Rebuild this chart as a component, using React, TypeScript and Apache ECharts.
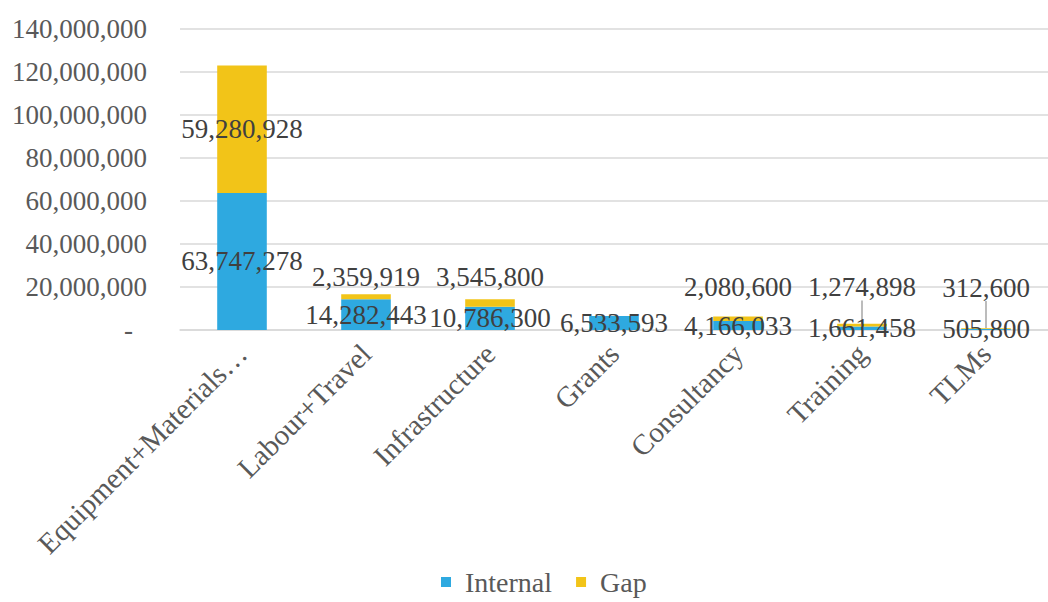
import React, { useEffect, useRef } from "react";
import * as echarts from "echarts";

const categories = [
  "Equipment+Materials…",
  "Labour+Travel",
  "Infrastructure",
  "Grants",
  "Consultancy",
  "Training",
  "TLMs",
];
const internalValues = [63747278, 14282443, 10786300, 6533593, 4166033, 1661458, 505800];
const gapValues: (number | null)[] = [59280928, 2359919, 3545800, null, 2080600, 1274898, 312600];
const yTicks = [0, 20000000, 40000000, 60000000, 80000000, 100000000, 120000000, 140000000];

// label placement (style, not data)
const gapLabelDy = [0, -20, -26, 0, -32, -38, -41];
const gapLeader = [false, false, false, false, false, true, true];

const FONT = "serif";
const FS = 27;
const TXT = "#404040";
const fmt = (v: number) => v.toLocaleString("en-US");

export default function App() {
  const ref = useRef<HTMLDivElement>(null);
  useEffect(() => {
    if (!ref.current) return;
    const chart = echarts.init(ref.current, null, { renderer: "svg" });
    chart.setOption({
      animation: false,
      textStyle: { fontFamily: FONT },
      grid: { left: 180, right: 0, top: 29, bottom: 272, containLabel: false },
      legend: {
        bottom: 1,
        left: 436,
        icon: "rect",
        itemWidth: 10,
        itemHeight: 10,
        itemGap: 24,
        textStyle: { fontFamily: FONT, fontSize: 28, color: "#595959", padding: [0, 0, 0, 9] },
        data: ["Internal", "Gap"],
      },
      xAxis: {
        type: "category",
        data: categories,
        axisLine: { show: true, lineStyle: { color: "#d9d9d9", width: 1.5 } },
        axisTick: { show: false },
        axisLabel: {
          rotate: 45,
          interval: 0,
          margin: 19,
          padding: [14, 0, 0, 0],
          fontFamily: FONT,
          fontSize: 29,
          color: "#595959",
        },
      },
      yAxis: {
        type: "value",
        min: yTicks[0],
        max: yTicks[yTicks.length - 1],
        interval: yTicks[1] - yTicks[0],
        axisLine: { show: false },
        axisTick: { show: false },
        splitLine: { lineStyle: { color: "#d9d9d9", width: 1.5 } },
        axisLabel: {
          margin: 33,
          fontFamily: FONT,
          fontSize: FS,
          color: "#595959",
          formatter: (v: number) => (v === 0 ? "{d|-}" : fmt(v)),
          rich: {
            d: { fontFamily: FONT, fontSize: FS, color: "#595959", padding: [0, 14, 0, 0] },
          },
        },
      },
      series: [
        {
          name: "Internal",
          type: "bar",
          stack: "total",
          barWidth: "40%",
          itemStyle: { color: "#2ea9e0" },
          label: {
            show: true,
            position: "inside",
            fontFamily: FONT,
            fontSize: FS,
            color: TXT,
            formatter: (p: any) => fmt(p.value),
          },
          data: internalValues,
        },
        {
          name: "Gap",
          type: "bar",
          stack: "total",
          barWidth: "40%",
          itemStyle: { color: "#f2c418" },
          label: {
            show: true,
            position: "inside",
            fontFamily: FONT,
            fontSize: FS,
            color: TXT,
            formatter: (p: any) => (p.value == null ? "" : fmt(p.value)),
          },
          labelLayout: (p: any) => ({ dy: gapLabelDy[p.dataIndex] }),
          labelLine: { show: false, lineStyle: { color: "#a6a6a6", width: 1.5 } },
          data: gapValues.map((v, i) => ({
            value: v,
            labelLine: { show: gapLeader[i], lineStyle: { color: "#a6a6a6", width: 1.5 } },
          })),
        },
      ],
    });
    return () => chart.dispose();
  }, []);
  return (
    <div
      ref={ref}
      style={{ position: "absolute", left: 0, top: 0, width: 1048, height: 602 }}
    />
  );
}
